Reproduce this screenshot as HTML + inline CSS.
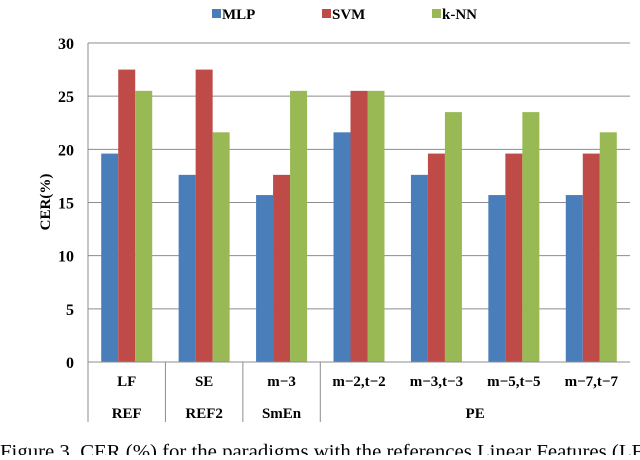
<!DOCTYPE html>
<html><head><meta charset="utf-8"><style>
body{margin:0;background:#fff;width:640px;height:455px;overflow:hidden}
svg text{font-family:"Liberation Serif",serif}
</style></head><body>
<svg id="chart" width="640" height="455" xmlns="http://www.w3.org/2000/svg"></svg>
<script>
const categories=["LF","SE","m−3","m−2,t−2","m−3,t−3","m−5,t−5","m−7,t−7"];
const groups=[["REF",0,1],["REF2",1,2],["SmEn",2,3],["PE",3,7]];
const mlp=[19.6,17.6,15.7,21.6,17.6,15.7,15.7];
const svm=[27.5,27.5,17.6,25.5,19.6,19.6,19.6];
const knn=[25.5,21.6,25.5,25.5,23.5,23.5,21.6];
const yTicks=[0,5,10,15,20,25,30];
const seriesNames=["MLP","SVM","k-NN"];
const colors=["#4a7ebb","#be4b48","#98b954"];
const svg=document.getElementById('chart');
const NS="http://www.w3.org/2000/svg";
const x0=88,x1=630,yTop=43,yBot=362;
const y=v=>yBot-(v/30)*(yBot-yTop);
const gw=(x1-x0)/categories.length;
const bw=17;
function mk(t,a,txt){const e=document.createElementNS(NS,t);for(const k in a)e.setAttribute(k,a[k]);if(txt!=null)e.textContent=txt;svg.appendChild(e);return e;}
yTicks.forEach(t=>{
 if(t>0){const l=mk('line',{x1:x0,x2:x1,y1:y(t),y2:y(t),stroke:'#8c8c8c','stroke-width':1});
 
 }
 const tx=mk('text',{x:74,y:y(t)+6,'text-anchor':'end','font-size':16,'font-weight':'bold'},t);
 
 
});
const ax=mk('line',{x1:x0,x2:x0,y1:yTop,y2:yBot,stroke:'#8c8c8c'});


const series=[mlp,svm,knn];
categories.forEach((c,i)=>{
 const cx=x0+gw*(i+0.5);
 series.forEach((s,j)=>{
  const r=mk('rect',{x:cx-1.5*bw+j*bw,y:y(s[i]),width:bw,height:yBot-y(s[i]),fill:colors[j]});
  
  
 });
 const t=mk('text',{x:cx,y:386,'text-anchor':'middle','font-size':15,'font-weight':'bold'},c);
 
 
});
const bl=mk('line',{x1:x0,x2:x1,y1:yBot,y2:yBot,stroke:'#8c8c8c'});


groups.forEach(g=>{
 const gx=x0+gw*g[1];
 const l=mk('line',{x1:gx,x2:gx,y1:yBot,y2:422,stroke:'#8c8c8c'});
 
 
 const t=mk('text',{x:x0+gw*(g[1]+g[2])/2,y:418,'text-anchor':'middle','font-size':15,'font-weight':'bold'},g[0]);
 
 
});
const yl=mk('text',{x:0,y:0,transform:'translate(50,202) rotate(-90)','text-anchor':'middle','font-size':15,'font-weight':'bold'},'CER(%)');


const lx=[212,322,432];
seriesNames.forEach((n,j)=>{
 const r=mk('rect',{x:lx[j],y:9,width:9,height:9,fill:colors[j]});
 
 
 const t=mk('text',{x:lx[j]+10,y:19,'font-size':15,'font-weight':'bold'},n);
 
 
});
const cap=mk('text',{x:0,y:458,'font-size':20,textLength:650,lengthAdjust:'spacingAndGlyphs'},'Figure 3. CER (%) for the paradigms with the references Linear Features (LF)');


</script>
</body></html>
